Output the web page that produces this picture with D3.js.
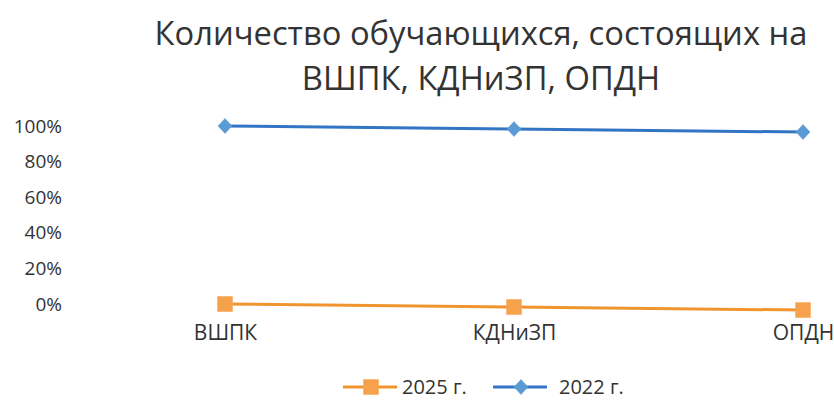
<!DOCTYPE html>
<html>
<head>
<meta charset="utf-8">
<script src="https://cdn.jsdelivr.net/npm/d3@7"></script>
<style>
  body { margin: 0; background: #fff; }
  svg { display: block; font-family: "Open Sans", "Noto Sans", sans-serif; }
</style>
</head>
<body>
<svg width="834" height="401"></svg>
<script>
const categories = ["ВШПК", "КДНиЗП", "ОПДН"];
const yTicks = [0, 0.2, 0.4, 0.6, 0.8, 1.0];
// values as read from the (slightly tilted) scan
const values2025 = [0, -0.017, -0.034];
const values2022 = [1.0, 0.983, 0.966];
const titleLines = ["Количество обучающихся, состоящих на", "ВШПК, КДНиЗП, ОПДН"];

const series = [
    { name: "2025 г.", values: values2025, line: "#f0952e", fill: "#f6a24c", marker: "square" },
    { name: "2022 г.", values: values2022, line: "#3275c4", fill: "#5b9bd5", marker: "diamond" }
];

const textColor = "#333333";
const svg = d3.select("svg");

const x = d3.scalePoint()
    .domain(categories)
    .range([225, 803]);

const y = d3.scaleLinear()
    .domain([0, 1])
    .range([304, 126]);

// title
const title = svg.append("g");
title.selectAll("text")
    .data(titleLines)
    .join("text")
    .attr("x", 481)
    .attr("y", (d, i) => 45 + i * 45)
    .attr("text-anchor", "middle")
    .attr("fill", textColor)
    .attr("font-size", 30)
    .attr("font-weight", 500)
    .text(d => d);

// fit first line to the width seen in the picture
const w0 = title.select("text").node().getComputedTextLength();
title.selectAll("text").attr("font-size", 30 * 653 / w0);

// y axis labels
const yAxis = d3.axisLeft(y)
    .tickValues(yTicks)
    .tickFormat(d3.format(".0%"))
    .tickSize(0)
    .tickPadding(0);

svg.append("g")
    .attr("transform", "translate(62,0)")
    .call(yAxis)
    .call(g => g.select(".domain").remove())
    .call(g => g.selectAll("text")
        .attr("fill", textColor)
        .attr("font-size", 19)
        .attr("font-family", "Open Sans, sans-serif"));

// x axis labels
const xAxis = d3.axisBottom(x).tickSize(0).tickPadding(0);
svg.append("g")
    .attr("transform", "translate(0,325)")
    .call(xAxis)
    .call(g => g.select(".domain").remove())
    .call(g => g.selectAll("text")
        .attr("fill", textColor)
        .attr("font-size", 21)
        .attr("font-family", "Open Sans, sans-serif"));

const line = d3.line()
    .x((d, i) => x(categories[i]))
    .y(d => y(d));

const squarePath = "M-7.5,-7.5H7.5V7.5H-7.5Z";
const diamondPath = "M0,-7.5L7,0L0,7.5L-7,0Z";

series.forEach(s => {
    svg.append("path")
        .datum(s.values)
        .attr("fill", "none")
        .attr("stroke", s.line)
        .attr("stroke-width", 3)
        .attr("d", line);

    svg.selectAll(null)
        .data(s.values)
        .join("path")
        .attr("transform", (d, i) => `translate(${x(categories[i])},${y(d)})`)
        .attr("d", s.marker === "square" ? squarePath : diamondPath)
        .attr("fill", s.fill)
        .attr("stroke", s.fill)
        .attr("stroke-width", 0.5);
});

// legend
const legendX = [343, 493];
const legend = svg.append("g").attr("transform", "translate(0,387)");
series.forEach((s, i) => {
    const g = legend.append("g").attr("transform", `translate(${legendX[i]},0)`);
    g.append("line")
        .attr("x1", 0).attr("x2", 54)
        .attr("stroke", s.line)
        .attr("stroke-width", 3);
    g.append("path")
        .attr("transform", "translate(28,0)")
        .attr("d", s.marker === "square" ? squarePath : diamondPath)
        .attr("fill", s.fill)
        .attr("stroke", s.fill)
        .attr("stroke-width", 0.5);
    g.append("text")
        .attr("x", i === 0 ? 59 : 66)
        .attr("dy", "0.35em")
        .attr("fill", textColor)
        .attr("font-size", 20)
        .text(s.name);
});
</script>
</body>
</html>
